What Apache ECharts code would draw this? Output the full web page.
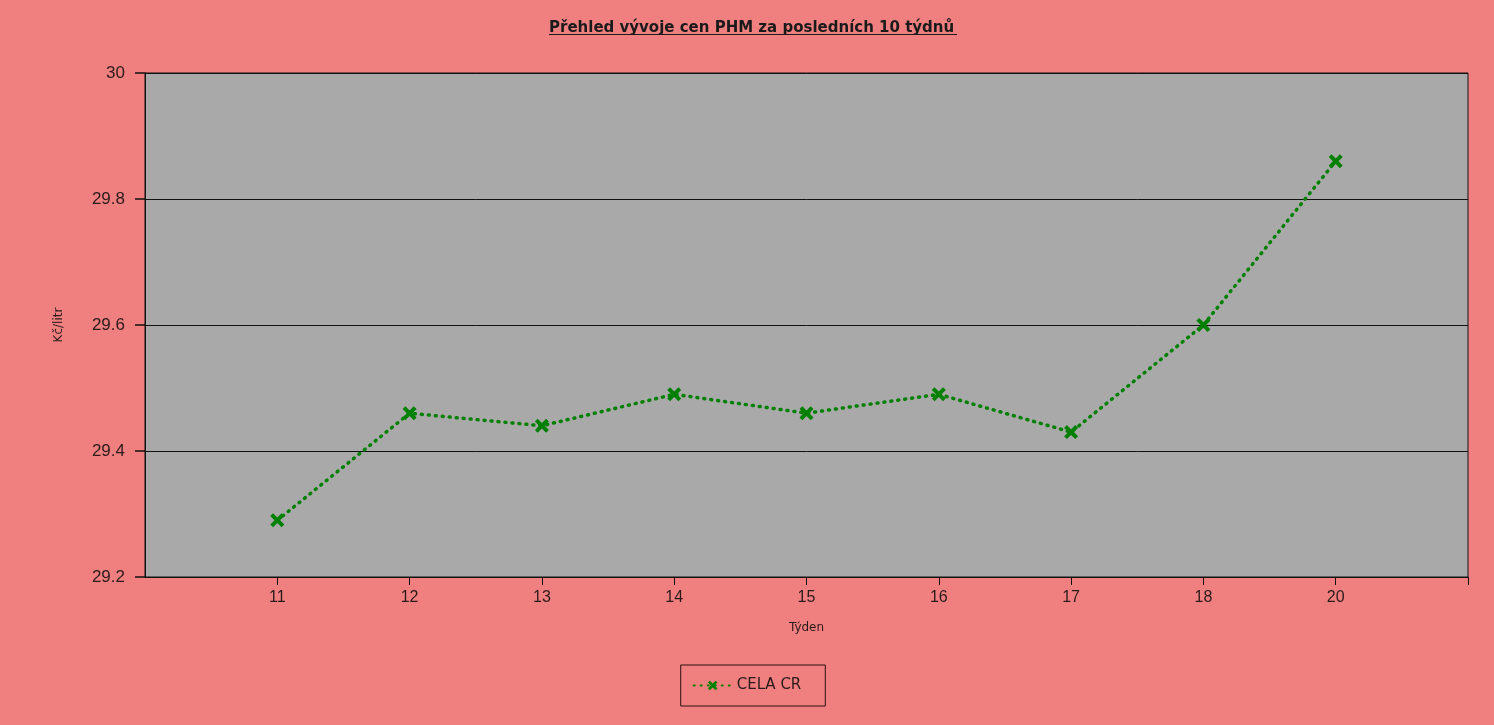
<!DOCTYPE html>
<html>
<head>
<meta charset="utf-8">
<script src="https://cdn.jsdelivr.net/npm/echarts@6/dist/echarts.min.js"></script>
<style>html,body{margin:0;padding:0;background:#F08080;}#c{width:1494px;height:725px;}</style>
</head>
<body>
<div id="c"></div>
<script>
const weeks = ['', '11', '12', '13', '14', '15', '16', '17', '18', '20', ''];
const prices = [null, 29.29, 29.46, 29.44, 29.49, 29.46, 29.49, 29.43, 29.60, 29.86, null];
const yTicks = { min: 29.2, max: 30, interval: 0.2 };
const seriesName = 'CELA CR';
const titleText = 'Přehled vývoje cen PHM za posledních 10 týdnů';

const xSym = 'path://M0,2 L2,0 L5,3 L8,0 L10,2 L7,5 L10,8 L8,10 L5,7 L2,10 L0,8 L3,5 Z';
const chart = echarts.init(document.getElementById('c'));
chart.setOption({
  backgroundColor: '#F08080',
  animation: false,
  title: {
    text: titleText, left: 544, top: 16,
    textStyle: { fontFamily: 'DejaVu Sans', fontWeight: 'bold', fontSize: 15, color: '#1a1a1a' }
  },
  grid: { left: 145, right: 26, top: 73, bottom: 148, show: true, backgroundColor: '#A9A9A9', borderColor: '#111', borderWidth: 1 },
  xAxis: {
    type: 'category', data: weeks, boundaryGap: false,
    name: 'Týden', nameLocation: 'middle', nameGap: 45,
    nameTextStyle: { fontFamily: 'DejaVu Sans', fontSize: 12, color: '#2a1a1a' },
    axisLine: { lineStyle: { color: '#111', width: 1 } },
    axisTick: { show: true, length: 8, lineStyle: { color: '#111' }, interval: function (i) { return i !== 0; } },
    axisLabel: { fontFamily: 'Liberation Sans', fontSize: 16, color: '#2a1a1a', margin: 13, interval: 0 },
    splitLine: { show: false }
  },
  yAxis: {
    type: 'value', min: yTicks.min, max: yTicks.max, interval: yTicks.interval,
    name: 'Kč/litr', nameLocation: 'middle', nameGap: 80, nameRotate: 90,
    nameTextStyle: { fontFamily: 'DejaVu Sans', fontSize: 12, color: '#2a1a1a' },
    axisLine: { show: true, lineStyle: { color: '#111' } },
    axisTick: { show: true, length: 10, lineStyle: { color: '#111', width: 1.5 } },
    axisLabel: { fontFamily: 'Liberation Sans', fontSize: 17, color: '#2a1a1a', margin: 20,
      formatter: function (v) { return String(Math.round(v * 10) / 10); } },
    splitLine: { show: true, lineStyle: { color: '#111', width: 1 } }
  },
  legend: {
    bottom: 19, left: 'center', data: [seriesName],
    borderColor: '#2a1010', borderWidth: 1, padding: [13, 24, 13, 12],
    itemWidth: 38, itemHeight: 12, itemGap: 8,
    textStyle: { fontFamily: 'DejaVu Sans', fontSize: 15, color: '#2a1a1a' }
  },
  graphic: [{
    type: 'rect', left: 549, top: 34,
    shape: { width: 408, height: 1 }, style: { fill: '#1a1a1a' }
  }],
  series: [{
    name: seriesName, type: 'line', data: prices,
    symbol: xSym, symbolSize: 14,
    itemStyle: { color: '#008000' },
    lineStyle: { color: '#008000', width: 3.5, type: [1, 6], cap: 'round' }
  }]
});
</script>
</body>
</html>
